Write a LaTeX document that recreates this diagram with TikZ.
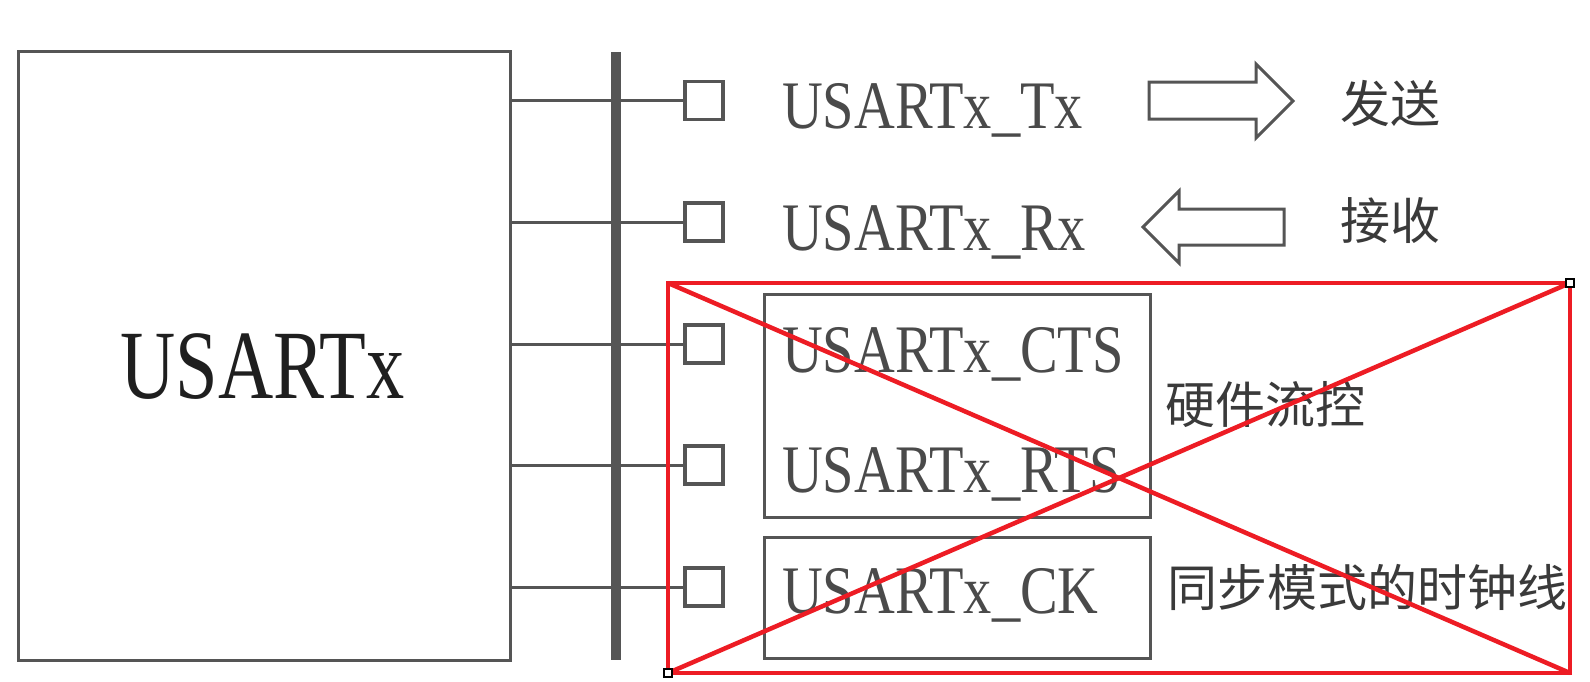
\documentclass[tikz,border=0pt]{standalone}
\usepackage{fontspec}
\setmainfont{Liberation Serif}
\newfontfamily\pinfont[FakeStretch=0.83]{Liberation Serif}
\newfontfamily\bigfont[FakeStretch=0.78]{Liberation Serif}
\newfontfamily\cjk{Noto Sans CJK SC}
\definecolor{linegray}{HTML}{555555}
\definecolor{txtgray}{HTML}{4A4A4A}
\definecolor{cjkgray}{HTML}{3A3A3A}
\definecolor{xred}{HTML}{ED1C24}
\tikzset{
  box/.style={draw=linegray, line width=3pt, inner sep=0pt, outer sep=0pt},
  pinbox/.style={draw=linegray, line width=3.5pt, fill=white, minimum size=38pt, inner sep=0pt, outer sep=0pt},
  wire/.style={draw=linegray, line width=3pt},
  bus/.style={draw=linegray, line width=10pt},
  pinlabel/.style={anchor=base west, inner sep=0pt, text=txtgray, font=\pinfont\fontsize{68}{68}\selectfont},
  cjklabel/.style={anchor=base west, inner sep=0pt, text=cjkgray, font=\cjk\fontsize{50}{50}\selectfont},
  fatarrow/.style={draw=linegray, line width=3pt, line join=miter, fill=white},
  redline/.style={draw=xred, line width=4.5pt},
  handle/.style={draw=black, line width=1.5pt, fill=white, minimum size=8pt, inner sep=0pt}
}
\begin{document}
\begin{tikzpicture}[x=1pt,y=-1pt]
\useasboundingbox (0,0) rectangle (1590,681);
\fill[white] (0,0) rectangle (1590,681);

% USARTx block
\node[box, minimum width=492pt, minimum height=609pt] (usart) at (264,355.5) {};
\node[anchor=base, inner sep=0pt, text=black!88, font=\bigfont\fontsize{98}{98}\selectfont] (utitle) at (262.5,398) {USARTx};

% pins
\node[pinbox] (p1) at (704,100.5) {};
\node[pinbox] (p2) at (704,222) {};
\node[pinbox] (p3) at (704,344) {};
\node[pinbox] (p4) at (704,465) {};
\node[pinbox] (p5) at (704,587) {};

% wires
\foreach \i in {1,...,5}{
  \draw[wire] (usart.east |- p\i) -- (p\i.west);
}

% bus
\coordinate (bustop) at (616,52);
\coordinate (busbot) at (616,660);
\draw[bus] (bustop) -- (busbot);

% grouping boxes
\node[box, minimum width=386pt, minimum height=223pt] (g1) at (957,405.5) {};
\node[box, minimum width=386pt, minimum height=121pt] (g2) at (957,597.5) {};

% pin labels
\node[pinlabel] (l1) at (782,128) {USARTx\_Tx};
\node[pinlabel] (l2) at (782,250) {USARTx\_Rx};
\node[pinlabel] (l3) at (782,372) {USARTx\_CTS};
\node[pinlabel] (l4) at (782,492) {USARTx\_RTS};
\node[pinlabel] (l5) at (782,613) {USARTx\_CK};

% direction arrows
\draw[fatarrow] (1149,82) -- (1256,82) -- (1256,64) -- (1293,101) -- (1256,138) -- (1256,119) -- (1149,119) -- cycle;
\draw[fatarrow] (1284,209) -- (1179,209) -- (1179,191) -- (1143,227) -- (1179,263) -- (1179,245) -- (1284,245) -- cycle;

% chinese labels
\node[cjklabel] (c1) at (1340,122.5) {发送};
\node[cjklabel] (c2) at (1340,239.5) {接收};
\node[cjklabel] (c3) at (1165,423.5) {硬件流控};
\node[cjklabel] (c4) at (1167,606.5) {同步模式的时钟线};

% red cross-out
\coordinate (rtl) at (668,283);
\coordinate (rbr) at (1570,673);
\draw[redline] (rtl) rectangle (rbr);
\draw[redline] (rtl) -- (rbr);
\draw[redline] (rtl |- rbr) -- (rbr |- rtl);
\node[handle] (h1) at (rbr |- rtl) {};
\node[handle] (h2) at (rtl |- rbr) {};
\end{tikzpicture}
\end{document}
